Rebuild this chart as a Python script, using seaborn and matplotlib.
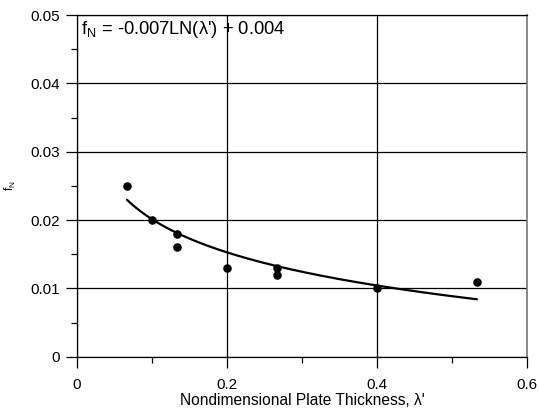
import numpy as np
import pandas as pd
import matplotlib
matplotlib.use("Agg")
import matplotlib.pyplot as plt
import seaborn as sns
from matplotlib.ticker import MultipleLocator

# Measured friction factor vs. nondimensional plate thickness
plate_thickness = [0.0667, 0.1, 0.1333, 0.1333, 0.2, 0.2667, 0.2667, 0.4, 0.5333]
friction_factor = [0.025, 0.020, 0.018, 0.016, 0.013, 0.013, 0.012, 0.010, 0.011]

# Logarithmic fit: fN = a*ln(lambda') + b
fit_a = -0.007
fit_b = 0.004

x_ticks = [0, 0.2, 0.4, 0.6]
y_ticks = [0, 0.01, 0.02, 0.03, 0.04, 0.05]
x_tick_labels = ["0", "0.2", "0.4", "0.6"]
y_tick_labels = ["0", "0.01", "0.02", "0.03", "0.04", "0.05"]

sns.set_theme(style="white")
plt.rcParams["font.family"] = ["Liberation Sans", "DejaVu Sans"]
plt.rcParams["mathtext.fontset"] = "custom"
plt.rcParams["mathtext.rm"] = "Liberation Sans"
plt.rcParams["mathtext.it"] = "Liberation Sans"
plt.rcParams["mathtext.bf"] = "Liberation Sans:bold"

data = pd.DataFrame({"x": plate_thickness, "y": friction_factor})
xs = np.linspace(min(plate_thickness), max(plate_thickness), 200)
fit = pd.DataFrame({"x": xs, "y": fit_a * np.log(xs) + fit_b})

fig = plt.figure(figsize=(5.39, 4.12), dpi=100)
ax = fig.add_axes([77 / 539, 1 - 356.7 / 412, 450 / 539, (356.7 - 15) / 412])

sns.lineplot(data=fit, x="x", y="y", ax=ax, color="black", linewidth=1.6, zorder=3)
sns.scatterplot(data=data, x="x", y="y", ax=ax, color="black", s=38,
                edgecolor="black", linewidth=0, zorder=4)

ax.set_xlim(0, 0.6)
ax.set_ylim(0, 0.05)
ax.set_xticks(x_ticks)
ax.set_xticklabels(x_tick_labels)
ax.set_yticks(y_ticks)
ax.set_yticklabels(y_tick_labels)
ax.xaxis.set_minor_locator(MultipleLocator(0.1))
ax.yaxis.set_minor_locator(MultipleLocator(0.005))

ax.grid(True, which="major", color="black", linewidth=0.9)
ax.set_axisbelow(True)
ax.tick_params(axis="both", which="major", direction="out", length=8, width=0.9,
               color="black", labelsize=11, labelcolor="black")
ax.tick_params(axis="y", which="major", pad=4)
ax.tick_params(axis="x", which="major", pad=7)
ax.tick_params(axis="both", which="minor", direction="out", length=4, width=0.9,
               color="black")
ax.tick_params(bottom=True, left=True, which="both")

for side in ["left", "bottom", "top"]:
    ax.spines[side].set_color("black")
    ax.spines[side].set_linewidth(0.9)
ax.spines["right"].set_color("#777777")
ax.spines["right"].set_linewidth(1.2)

ax.set_xlabel("Nondimensional Plate Thickness, λ'", fontsize=11.2, color="black",
              labelpad=1)
ax.set_ylabel(r"f$_\mathrm{N}$", fontsize=8.5, color="black")
ax.yaxis.set_label_coords(-0.131, 0.5)

ax.text(0.009, 0.944, r"f$_\mathrm{N}$ = -0.007LN(λ') + 0.004", transform=ax.transAxes,
        ha="left", va="baseline", fontsize=13.2, color="black")

fig.savefig("out.png", dpi=100, facecolor="white")
